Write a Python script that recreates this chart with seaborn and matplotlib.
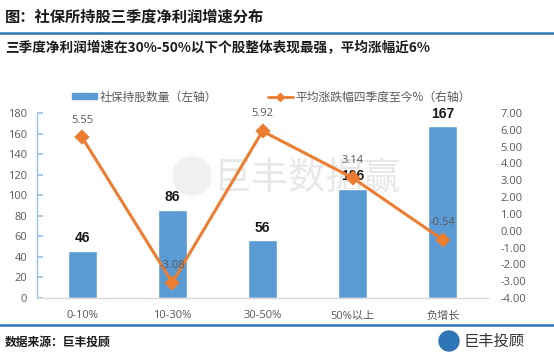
import matplotlib
matplotlib.use("Agg")
import matplotlib.pyplot as plt
import seaborn as sns
import numpy as np
import pandas as pd
from matplotlib.lines import Line2D
from matplotlib.patches import Patch, Ellipse

# ---- data ----
categories = ["0-10%", "10-30%", "30-50%", "50%以上", "负增长"]
holdings = [46, 86, 56, 106, 167]
avg_change = [5.55, -3.08, 5.92, 3.14, -0.54]
left_ticks = [0, 20, 40, 60, 80, 100, 120, 140, 160, 180]
right_ticks = [-4, -3, -2, -1, 0, 1, 2, 3, 4, 5, 6, 7]

title = "图：社保所持股三季度净利润增速分布"
subtitle = "三季度净利润增速在30%-50%以下个股整体表现最强，平均涨幅近6%"
bar_label = "社保持股数量（左轴）"
line_label = "平均涨跌幅四季度至今%（右轴）"
source = "数据来源：巨丰投顾"
brand = "巨丰投顾"
watermark = "巨丰数据赢"

BLUE = "#5B9BD5"
ORANGE = "#ED7D31"
GRAY = "#595959"

sns.set_theme(style="white")
plt.rcParams["font.family"] = ["Noto Sans CJK SC", "DejaVu Sans"]

df = pd.DataFrame({"cat": categories, "n": holdings, "chg": avg_change})

W, H = 554, 358
fig = plt.figure(figsize=(W / 100, H / 100), dpi=100)
fig.patch.set_facecolor("white")

ax = fig.add_axes([37 / W, 1 - 298 / H, 451 / W, 185 / H])
ax.set_facecolor("none")

# watermark (behind the bars)
ax.text(308 / W, 1 - 178 / H, watermark, transform=fig.transFigure,
        fontsize=27, color="#E8E8E8", ha="center", va="center", zorder=0.5)
ax.add_artist(Ellipse((192 / W, 1 - 176 / H), 38 / W, 38 / H,
                      transform=fig.transFigure, color="#F0F0F0", zorder=0.4))

sns.barplot(data=df, x="cat", y="n", color=BLUE, width=0.32, saturation=1,
            ax=ax, zorder=2)
ax.set_ylim(0, 180)
ax.set_yticks(left_ticks)
ax.set_xlim(-0.5, 4.5)
ax.set_xlabel("")
ax.set_ylabel("")
for s in ["top", "right"]:
    ax.spines[s].set_visible(False)
ax.spines["left"].set_color("#9DC3E6")
ax.spines["left"].set_linewidth(1.0)
ax.spines["bottom"].set_color("#D9D9D9")
ax.spines["bottom"].set_linewidth(1.0)
ax.tick_params(axis="y", direction="in", length=4, color="#9DC3E6",
               labelsize=8, labelcolor=GRAY, pad=7, left=True)
ax.tick_params(axis="x", length=0, labelsize=8, labelcolor=GRAY, pad=9)
ax.set_yticklabels([str(v) for v in left_ticks], fontfamily="Open Sans")
ax.set_xticks(range(len(categories)))
ax.set_xticklabels(categories, fontfamily=["Open Sans", "Noto Sans CJK SC"])

for container in ax.containers:
    ax.bar_label(container, labels=[str(v) for v in holdings], padding=4,
                 fontsize=10, fontweight="bold", color="#1a1a1a",
                 fontfamily="Liberation Sans")

ax2 = ax.twinx()
sns.pointplot(data=df, x="cat", y="chg", color=ORANGE, markers="D",
              markersize=6, linewidth=2.2, ax=ax2, zorder=3)
ax2.set_ylim(-4, 7)
ax2.set_yticks(right_ticks)
ax2.set_yticklabels([f"{v:.2f}" for v in right_ticks],
                    fontfamily="Open Sans")
ax2.set_xlim(-0.5, 4.5)
ax2.set_ylabel("")
ax2.set_xlabel("")
for s in ["top", "right", "left", "bottom"]:
    ax2.spines[s].set_visible(False)
ax2.tick_params(axis="y", length=0, labelsize=8, labelcolor=GRAY, pad=9)
for i, v in enumerate(avg_change):
    ax2.annotate(f"{v:.2f}", (i, v), xytext=(0, 8.5), textcoords="offset points",
                 ha="center", va="bottom", fontsize=8, color=GRAY,
                 fontfamily="Open Sans")

# legend
handles = [Patch(facecolor=BLUE, edgecolor=BLUE),
           Line2D([0], [0], color=ORANGE, lw=2, marker="D", markersize=4)]
leg = fig.legend(handles, [bar_label, line_label], loc="center",
                 bbox_to_anchor=(0.490, 1 - 97 / H), ncol=2, frameon=False,
                 fontsize=8.5, handlelength=2.1, handleheight=0.45,
                 columnspacing=4.3, handletextpad=0.25)
for t in leg.get_texts():
    t.set_color(GRAY)

# titles
fig.text(0.009, 1 - 17 / H, title, fontsize=11, fontweight="bold", ha="left",
         va="center", color="#1a1a1a")
fig.add_artist(Line2D([0, 1], [1 - 33 / H, 1 - 33 / H],
                      transform=fig.transFigure, color="#2E75B6", lw=1.8))
fig.text(0.009, 1 - 48 / H, subtitle, fontsize=9.8, fontweight="bold",
         ha="left", va="center", color="#1a1a1a")

# footer
fig.add_artist(Line2D([0, 1], [1 - 325 / H, 1 - 325 / H],
                      transform=fig.transFigure, color="#2E75B6", lw=1.8))
fig.text(0.009, 1 - 342 / H, source, fontsize=8.5, fontweight="bold",
         ha="left", va="center", color="#1a1a1a")
fig.add_artist(Ellipse((449 / W, 1 - 341 / H), 20 / W, 20 / H,
                       transform=fig.transFigure, color="#2E75B6"))
fig.text(464 / W, 1 - 341 / H, brand, fontsize=11, ha="left", va="center",
         color="#333333")

fig.savefig("out.png", dpi=100, facecolor="white")
